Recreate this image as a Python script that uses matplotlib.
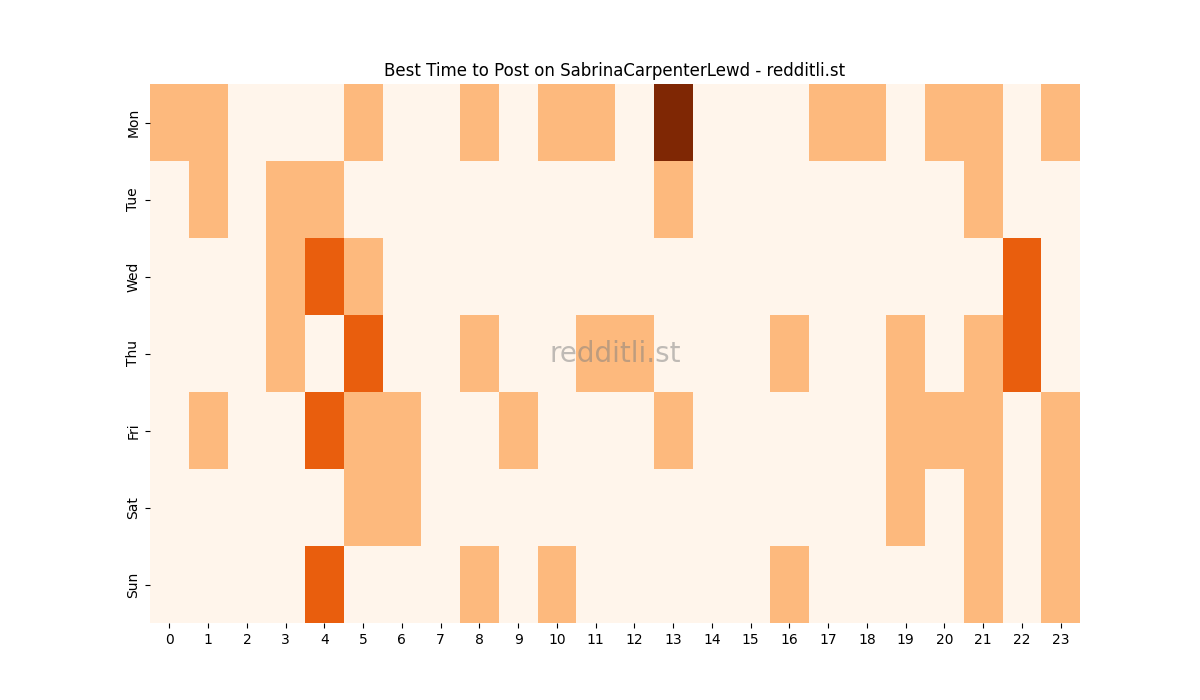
import matplotlib
matplotlib.use("Agg")
import matplotlib.pyplot as plt
import seaborn as sns
import numpy as np

days = ["Mon", "Tue", "Wed", "Thu", "Fri", "Sat", "Sun"]
hours = [str(h) for h in range(24)]
nonzero = {
    "Mon": {0: 1, 1: 1, 5: 1, 8: 1, 10: 1, 11: 1, 13: 3, 17: 1, 18: 1, 20: 1, 21: 1, 23: 1},
    "Tue": {1: 1, 3: 1, 4: 1, 13: 1, 21: 1},
    "Wed": {3: 1, 4: 2, 5: 1, 22: 2},
    "Thu": {3: 1, 5: 2, 8: 1, 11: 1, 12: 1, 16: 1, 19: 1, 21: 1, 22: 2},
    "Fri": {1: 1, 4: 2, 5: 1, 6: 1, 9: 1, 13: 1, 19: 1, 20: 1, 21: 1, 23: 1},
    "Sat": {5: 1, 6: 1, 19: 1, 21: 1, 23: 1},
    "Sun": {4: 2, 8: 1, 10: 1, 16: 1, 21: 1, 23: 1},
}
grid = np.zeros((len(days), len(hours)))
for i, d in enumerate(days):
    for h, v in nonzero[d].items():
        grid[i, h] = v

fig, ax = plt.subplots(figsize=(12, 7), dpi=100)
sns.heatmap(grid, cmap="Oranges", cbar=False, ax=ax, xticklabels=hours, yticklabels=days)
ax.set_title("Best Time to Post on SabrinaCarpenterLewd - redditli.st")
ax.text(0.5, 0.5, "redditli.st", transform=ax.transAxes, ha="center", va="center",
        fontsize=20, color="gray", alpha=0.5)
fig.savefig("out.png")
